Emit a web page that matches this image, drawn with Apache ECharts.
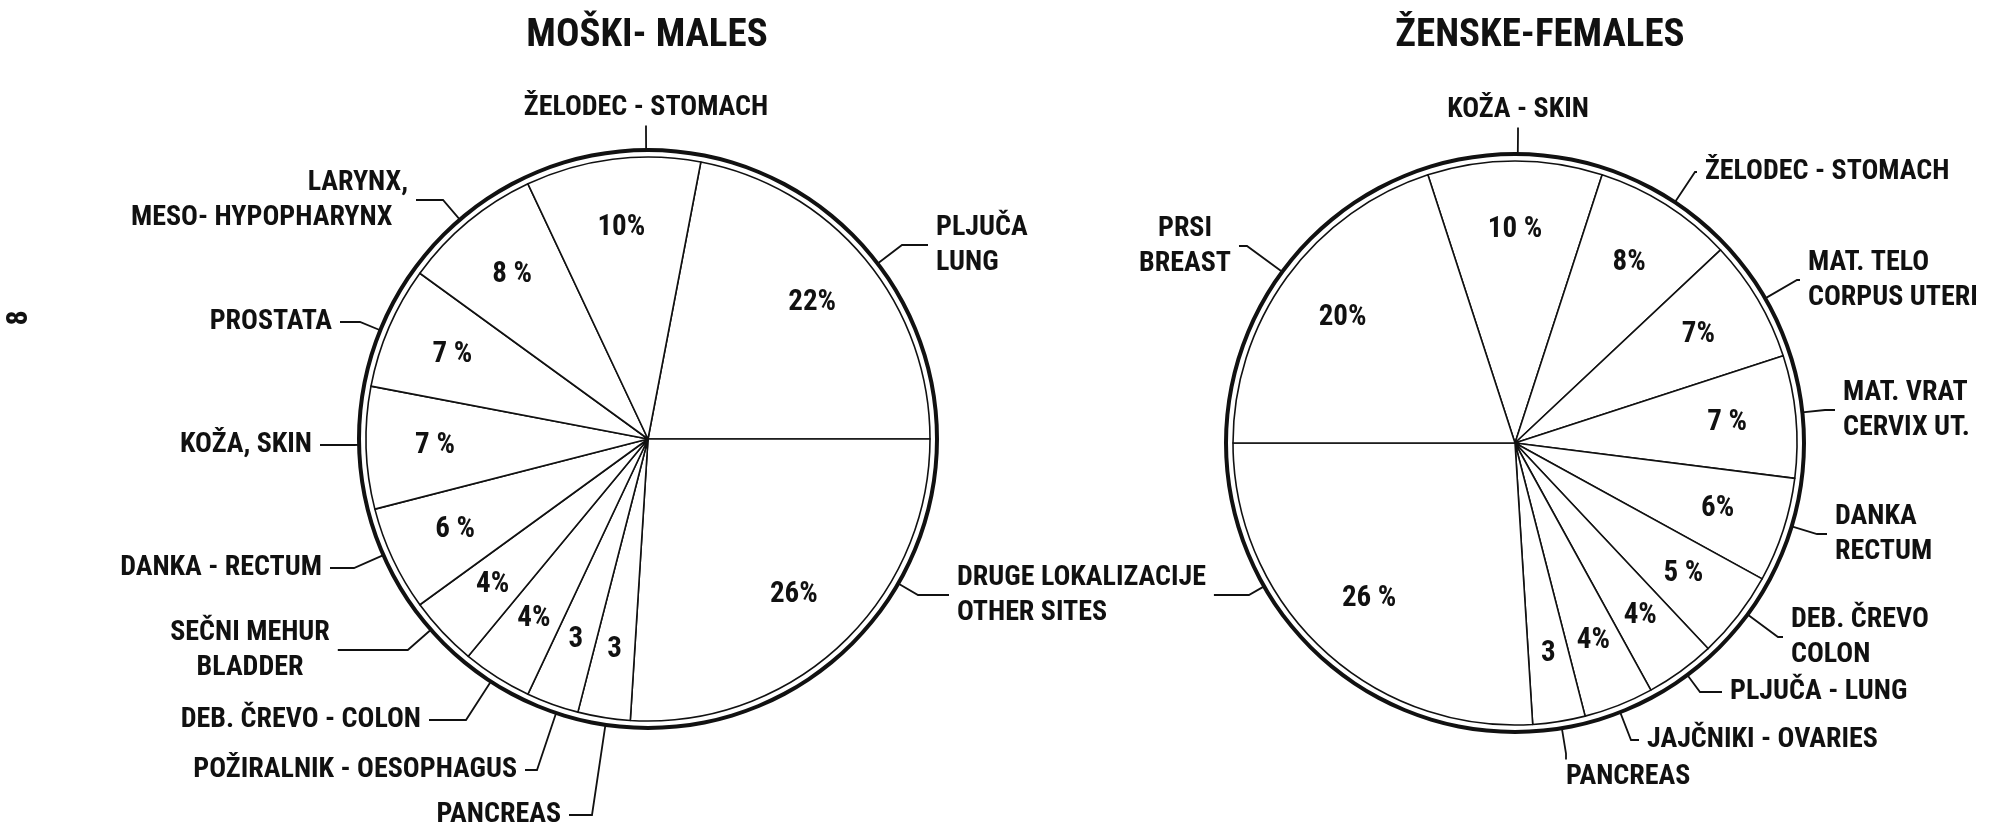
<!DOCTYPE html>
<html>
<head>
<meta charset="utf-8">
<title>Moški - Males / Ženske - Females</title>
<script src="https://cdn.jsdelivr.net/npm/echarts@6/dist/echarts.min.js"></script>
<style>
  html, body { margin: 0; padding: 0; background: #fff; }
  #chart { width: 1996px; height: 828px; }
</style>
</head>
<body>
<div id="chart"></div>
<script>
// --------------------------
// data: males (clockwise, starting at the lung slice)
// --------------------------
const maleNames = [
  'PLJUČA\nLUNG',
  'DRUGE LOKALIZACIJE\nOTHER SITES',
  'PANCREAS',
  'POŽIRALNIK - OESOPHAGUS',
  'DEB. ČREVO - COLON',
  'SEČNI MEHUR\nBLADDER',
  'DANKA - RECTUM',
  'KOŽA, SKIN',
  'PROSTATA',
  'LARYNX,\nMESO- HYPOPHARYNX',
  'ŽELODEC - STOMACH'
]
const maleValues = [22, 26, 3, 3, 4, 4, 6, 7, 7, 8, 10]
const malePctText = ['22%', '26%', '3', '3', '4%', '4%', '6 %', '7 %', '7 %', '8 %', '10%']

// --------------------------
// data: females (clockwise, starting at the skin slice)
// --------------------------
const femaleNames = [
  'KOŽA - SKIN',
  'ŽELODEC - STOMACH',
  'MAT. TELO\nCORPUS UTERI',
  'MAT. VRAT\nCERVIX UT.',
  'DANKA\nRECTUM',
  'DEB. ČREVO\nCOLON',
  'PLJUČA - LUNG',
  'JAJČNIKI - OVARIES',
  'PANCREAS',
  'DRUGE LOKALIZACIJE\nOTHER SITES',
  'PRSI\nBREAST'
]
const femaleValues = [10, 8, 7, 7, 6, 5, 4, 4, 3, 26, 20]
const femalePctText = ['10 %', '8%', '7%', '7 %', '6%', '5 %', '4%', '4%', '3', '26 %', '20%']

// --------------------------
// font: pick a narrow face if one is installed
// --------------------------
const probe = document.createElement('canvas').getContext('2d')
function textWidth(font, s) { probe.font = font; return probe.measureText(s).width }
function hasFont(fam) {
  const s = 'PANCREAS mwil 0123'
  return ['monospace', 'serif'].some(b => textWidth('bold 100px ' + b, s) !== textWidth("bold 100px '" + fam + "', " + b, s))
}
const narrowFonts = ['Liberation Sans Narrow', 'Roboto Condensed', 'DejaVu Sans Condensed']
const FAMILY = narrowFonts.find(hasFont) || 'Roboto'
const FONT = "'" + FAMILY + "', 'Noto Sans', sans-serif"

// --------------------------
// layout / style
// --------------------------
const INK = '#111'
const PAD = 8
const R = 282
const LEAD_R = R + 7
const NAME_SIZE = 28
const maleCenter = [648, 439]
const femaleCenter = [1515, 443]
const maleStart = 79.2
const femaleStart = 108
const nameFont = 'bold ' + NAME_SIZE + 'px ' + FONT

// label anchor: [x, y, align, side the leader leaves from, length2, firstLineIndent, ghost]
const maleLabelPos = [
  [936, 245, 'left', 'left', 26],
  [957, 595, 'left', 'left', 31],
  [561, 815, 'right', 'right', 23],
  [517, 770, 'right', 'right', 12],
  [421, 720, 'right', 'right', 37],
  [250, 650, 'center', 'right', 70],
  [322, 568, 'right', 'right', 24],
  [312, 445, 'right', 'right', 34],
  [332, 322, 'right', 'right', 20],
  [131, 200, 'left', 'right', 27, 408 - 131 - textWidth(nameFont, 'LARYNX,')],
  [646, 108, 'center', 'bottom', 6]
]
const pancreasW = textWidth(nameFont, 'PANCREAS')
const femaleLabelPos = [
  [1518, 110, 'center', 'bottom', 6],
  [1705, 172, 'left', 'left', 2],
  [1808, 280, 'left', 'left', 3],
  [1843, 410, 'left', 'left', 10],
  [1835, 534, 'left', 'left', 10],
  [1791, 637, 'left', 'left', 5],
  [1730, 692, 'left', 'left', 22],
  [1647, 740, 'left', 'left', 8],
  [1566 - pancreasW, 777, 'left', 'top', 6, pancreasW],
  [957, 595, 'left', 'right', 35, 0, true],
  [1185, 246, 'center', 'right', 8]
]

const nameStyle = { fontFamily: FONT, fontSize: NAME_SIZE, fontWeight: 'bold', color: INK, lineHeight: 35 }

function buildData(names, values, pos) {
  return names.map((n, i) => {
    const p = pos[i]
    const label = {}
    if (p[5]) label.rich = { i: Object.assign({}, nameStyle, { padding: [0, 0, 0, p[5]] }) }
    if (p[6]) label.color = 'rgba(0,0,0,0)'
    return { name: n, value: values[i], label: label }
  })
}

function nameFormatter(pos) {
  return p => {
    if (!pos[p.dataIndex][5]) return p.name
    const lines = p.name.split('\n')
    return '{i|' + lines[0] + '}' + (lines.length > 1 ? '\n' + lines.slice(1).join('\n') : '')
  }
}

// place the label, then run its leader: label side -> short straight piece -> circle rim
function layoutFn(pos, center) {
  return params => {
    const p = pos[params.dataIndex]
    const w = params.labelRect.width
    const h = params.labelRect.height
    let x = p[0]
    if (p[2] === 'left') x -= PAD
    if (p[2] === 'right') x += PAD
    const left = p[2] === 'left' ? x : p[2] === 'right' ? x - w : x - w / 2
    const top = p[1] - h / 2
    const side = {
      left: [[left, p[1]], [-1, 0]],
      right: [[left + w, p[1]], [1, 0]],
      top: [[left + w / 2, top], [0, -1]],
      bottom: [[left + w / 2, top + h], [0, 1]]
    }[p[3]]
    const p0 = side[0]
    const p1 = [p0[0] + side[1][0] * p[4], p0[1] + side[1][1] * p[4]]
    const dx = p1[0] - center[0]
    const dy = p1[1] - center[1]
    const d = Math.sqrt(dx * dx + dy * dy)
    const p2 = [center[0] + dx / d * LEAD_R, center[1] + dy / d * LEAD_R]
    return { x: x, y: p[1], align: p[2], verticalAlign: 'middle', labelLinePoints: [p2, p1, p0] }
  }
}

function pieSeries(center, start, names, values, pct, pos) {
  return [
    // outer thick ring
    {
      type: 'pie', center: center, radius: [R + 5, R + 9], silent: true,
      emphasis: { disabled: true }, label: { show: false }, labelLine: { show: false },
      itemStyle: { color: INK, borderWidth: 0 },
      data: [{ value: 1 }]
    },
    // slices + names with leader lines
    {
      type: 'pie', center: center, radius: [0, R], startAngle: start, clockwise: true,
      avoidLabelOverlap: false, silent: true, emphasis: { disabled: true },
      itemStyle: { color: '#fff', borderColor: INK, borderWidth: 1.6 },
      label: Object.assign({ show: true, position: 'outside', padding: [0, PAD], formatter: nameFormatter(pos) }, nameStyle),
      labelLine: { show: true, length: 10, length2: 10, smooth: false, lineStyle: { color: INK, width: 1.8 } },
      labelLayout: layoutFn(pos, center),
      data: buildData(names, values, pos)
    },
    // percentage labels inside the slices
    {
      type: 'pie', center: center, radius: [R * 0.49, R], startAngle: start, clockwise: true,
      avoidLabelOverlap: false, silent: true, emphasis: { disabled: true },
      itemStyle: { color: 'rgba(0,0,0,0)', borderWidth: 0 },
      label: {
        show: true, position: 'inside', formatter: p => pct[p.dataIndex],
        fontFamily: FONT, fontSize: 29, fontWeight: 'bold', color: INK
      },
      labelLine: { show: false },
      data: values.map((v, i) => ({ name: names[i], value: v }))
    }
  ]
}

const chart = echarts.init(document.getElementById('chart'))
chart.setOption({
  animation: false,
  backgroundColor: '#fff',
  graphic: [
    { type: 'text', x: 647, y: 36, style: { text: 'MOŠKI- MALES', align: 'center', verticalAlign: 'middle', font: 'bold 39px ' + FONT, fill: INK } },
    { type: 'text', x: 1540, y: 36, style: { text: 'ŽENSKE-FEMALES', align: 'center', verticalAlign: 'middle', font: 'bold 39px ' + FONT, fill: INK } },
    // page number, printed sideways
    { type: 'text', x: 19, y: 318, rotation: Math.PI / 2, style: { text: '8', align: 'center', verticalAlign: 'middle', font: 'bold 30px ' + FONT, fill: INK } }
  ],
  series: [
    ...pieSeries(maleCenter, maleStart, maleNames, maleValues, malePctText, maleLabelPos),
    ...pieSeries(femaleCenter, femaleStart, femaleNames, femaleValues, femalePctText, femaleLabelPos)
  ]
})
</script>
</body>
</html>
